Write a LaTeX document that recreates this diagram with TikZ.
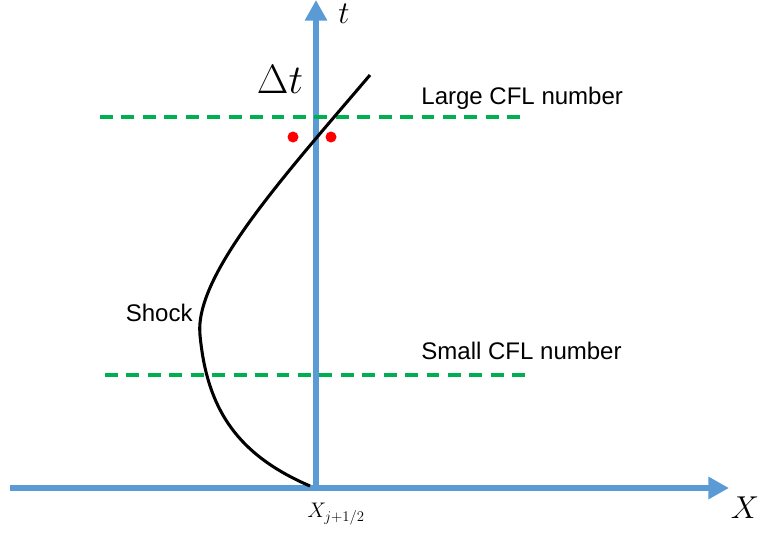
\RequirePackage{fix-cm}
\documentclass[tikz,border=0pt]{standalone}
\usepackage{amsmath,amssymb}
\usepackage{fontspec}
\setmainfont{Liberation Sans}
\usepackage{tikz}
\usetikzlibrary{arrows.meta}
\definecolor{axisblue}{RGB}{91,155,213}
\definecolor{cflgreen}{RGB}{0,176,80}

\begin{document}
\begin{tikzpicture}[x=0.03cm,y=-0.03cm,every node/.style={font=\fontsize{20.5}{24}\selectfont,inner sep=1pt},
  axis/.style={axisblue,line width=5.6pt,-{Triangle[length=0.62cm,width=0.64cm]}},
  cfl/.style={cflgreen,line width=3.2pt,dash pattern=on 11pt off 7.3pt}]
\useasboundingbox (0,0) rectangle (759,533);
% axes
\coordinate (xl) at (10,488);
\coordinate (xr) at (729,488);
\coordinate (tb) at (316,491);
\coordinate (tt) at (316,0);
\draw[axis] (xl) -- (xr);
\draw[axis] (tb) -- (tt);
\node (tlab) at (344,14) {\fontsize{27}{28}\selectfont$t$};
\node (xlab) at (745,508) {\fontsize{27}{28}\selectfont$X$};
\node (xj) at (336,514) {\fontsize{18}{20}\selectfont$X_{j+1/2}$};
% CFL levels
\coordinate (l1) at (100,117);
\coordinate (r1) at (522,117);
\coordinate (l2) at (105,375);
\coordinate (r2) at (527,375);
\draw[cfl] (l1) -- (r1);
\draw[cfl] (l2) -- (r2);
\node[anchor=west] (large) at (420,98) {Large CFL number};
\node[anchor=west] (small) at (420,351) {Small CFL number};
\node (dt) at (280,79) {\fontsize{35}{38}\selectfont$\Delta t$};
% shock path
\draw[line width=2.6pt] (310,486) .. controls (238,455) and (207,410) .. (200,335)
  .. controls (194,275) and (285,175) .. (370,75);
\node[anchor=east] (shock) at (194,313) {Shock};
\fill[red] (293,137) circle (5.5);
\fill[red] (331,137) circle (5.5);
\end{tikzpicture}
\end{document}
